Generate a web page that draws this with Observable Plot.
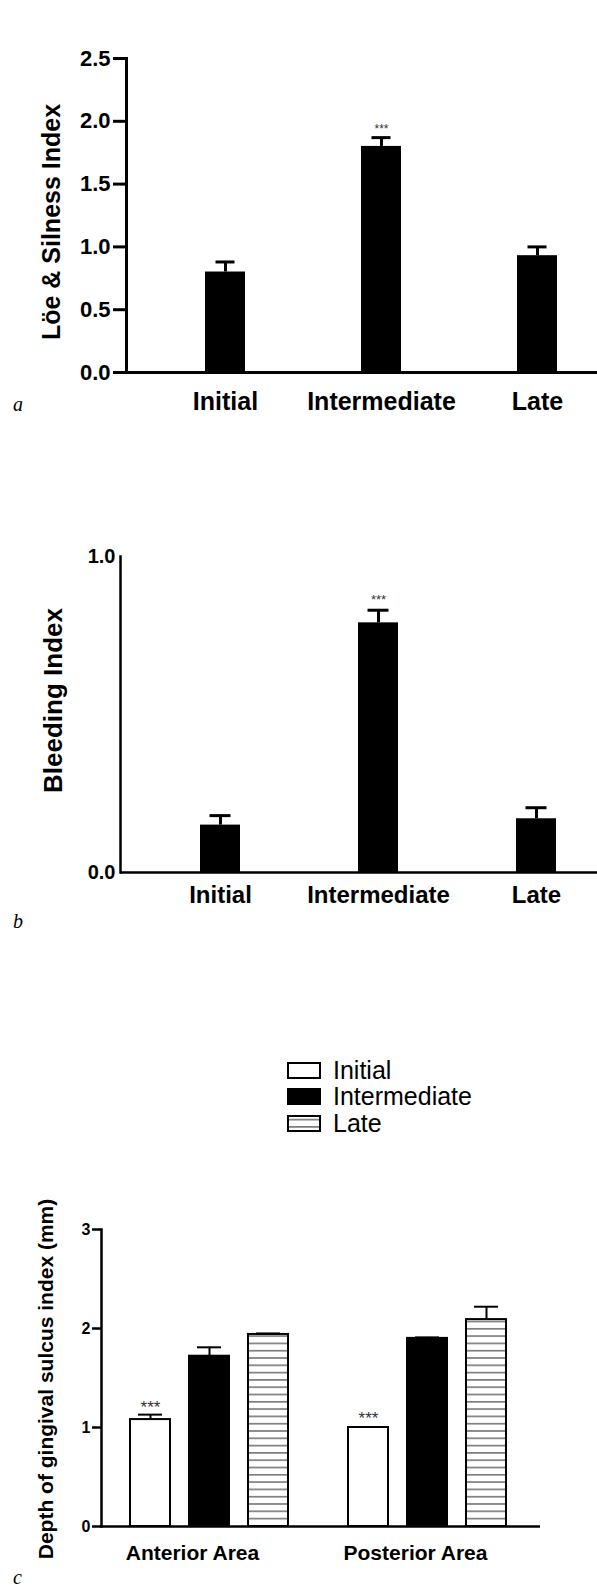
<!DOCTYPE html>
<html><head><meta charset="utf-8">
<script src="https://cdn.jsdelivr.net/npm/d3@7"></script>
<script src="https://cdn.jsdelivr.net/npm/@observablehq/plot@0.6"></script>
<style>
html,body{margin:0;padding:0;background:#fff;}
#page{position:relative;width:597px;height:1590px;overflow:hidden;font-family:"Liberation Sans",Arial,sans-serif;}
.panel{position:absolute;left:0;}
.tag{position:absolute;font-family:"Liberation Serif","Times New Roman",serif;font-style:italic;font-size:20px;line-height:1;}
#legend{position:absolute;left:288px;top:1057px;width:270px;}
.lg-swatches{margin:0!important;min-height:0!important;}
.lg-swatch{display:flex!important;align-items:center!important;height:26.5px!important;padding:0!important;margin:0!important;}
.lg-swatch svg{margin-right:13px!important;overflow:visible!important;}
.lg-swatch svg rect{stroke:#000;stroke-width:2px;}
</style></head>
<body>
<svg width="0" height="0" style="position:absolute">
  <defs>
    <pattern id="stripes" patternUnits="userSpaceOnUse" width="8" height="7.3">
      <rect width="8" height="7.3" fill="#fff"></rect>
      <line x1="0" x2="8" y1="3.6" y2="3.6" stroke="#555" stroke-width="1.3"></line>
    </pattern>
  </defs>
</svg>
<div id="page"></div>
<script>
// ---- data ----
const categories = ["Initial", "Intermediate", "Late"];
const loeMean = [0.80, 1.80, 0.93];
const loeUpper = [0.88, 1.87, 1.00];
const loeTicks = [0, 0.5, 1.0, 1.5, 2.0, 2.5];
const loeStar = 1.94;
const bleedMean = [0.15, 0.79, 0.17];
const bleedUpper = [0.18, 0.83, 0.205];
const bleedTicks = [0, 1];
const bleedStar = 0.862;
const areas = ["Anterior Area", "Posterior Area"];
const anteriorMean = [1.08, 1.72, 1.94];
const anteriorUpper = [1.13, 1.81, 1.95];
const posteriorMean = [1.00, 1.90, 2.09];
const posteriorUpper = [1.00, 1.91, 2.22];
const depthTicks = [0, 1, 2, 3];
const depthStars = [1.205, 1.09];
const starLabel = "***";
const yTitles = ["Löe & Silness Index", "Bleeding Index", "Depth of gingival sulcus index (mm)"];
const panelTags = ["a", "b", "c"];
const fillsC = ["#ffffff", "#000000", "url(#stripes)"];

// ---- tables ----
const rowsA = categories.map((c, i) => ({cat: c, mean: loeMean[i], upper: loeUpper[i]}));
const rowsB = categories.map((c, i) => ({cat: c, mean: bleedMean[i], upper: bleedUpper[i]}));
const rowsC = areas.flatMap((a, j) => categories.map((c, i) => ({
  area: a, cat: c,
  mean: (j ? posteriorMean : anteriorMean)[i],
  upper: (j ? posteriorUpper : anteriorUpper)[i],
  star: i === 0 ? depthStars[j] : null
})));
const starA = [{cat: "Intermediate", y: loeStar}];
const starB = [{cat: "Intermediate", y: bleedStar}];

const FONT = "'Liberation Sans', Arial, Helvetica, sans-serif";
const baseStyle = {fontFamily: FONT, background: "transparent", overflow: "visible", color: "#000"};
const page = document.getElementById("page");
function place(node, top) {
  node.classList.add("panel");
  node.style.top = top + "px";
  page.appendChild(node);
}

// ---- panel a ----
const plotA = Plot.plot({
  width: 597, height: 430, marginTop: 58, marginBottom: 58, marginLeft: 126, marginRight: 0,
  style: baseStyle,
  x: {domain: categories, range: [204, 558], paddingInner: 0.745, paddingOuter: 0},
  y: {domain: [0, 2.5]},
  marks: [
    Plot.barY(rowsA, {x: "cat", y: "mean", fill: "#000"}),
    Plot.ruleX(rowsA, {x: "cat", y1: "mean", y2: "upper", strokeWidth: 3}),
    Plot.tickY(rowsA, {x: "cat", y: "upper", strokeWidth: 3, insetLeft: 10.5, insetRight: 10.5}),
    Plot.text(starA, {x: "cat", y: "y", text: () => starLabel, fontSize: 12, fill: "#333"}),
    Plot.ruleY([0], {strokeWidth: 3}),
    Plot.frame({anchor: "left", strokeWidth: 3}),
    Plot.axisY({ticks: loeTicks, tickFormat: d3.format(".1f"), tickSize: 13, tickPadding: 3, fontSize: 22, fontWeight: "bold", strokeWidth: 3, label: null}),
    Plot.axisX({tickSize: 0, tickPadding: 20, fontSize: 25, fontWeight: "bold", label: null}),
    Plot.text([yTitles[0]], {frameAnchor: "left", textAnchor: "middle", lineAnchor: "middle", rotate: -90, dx: -74.5, dy: 6.5, fontSize: 25, fontWeight: "bold", text: d => d})
  ]
});
place(plotA, 0);

// ---- panel b ----
const plotB = Plot.plot({
  width: 597, height: 500, marginTop: 126, marginBottom: 58, marginLeft: 120, marginRight: 0,
  style: baseStyle,
  x: {domain: categories, range: [199, 556], paddingInner: 0.748, paddingOuter: 0},
  y: {domain: [0, 1]},
  marks: [
    Plot.barY(rowsB, {x: "cat", y: "mean", fill: "#000"}),
    Plot.ruleX(rowsB, {x: "cat", y1: "mean", y2: "upper", strokeWidth: 3}),
    Plot.tickY(rowsB, {x: "cat", y: "upper", strokeWidth: 3, insetLeft: 9.5, insetRight: 9.5}),
    Plot.text(starB, {x: "cat", y: "y", text: () => starLabel, fontSize: 13, fill: "#333"}),
    Plot.ruleY([0], {strokeWidth: 2.5}),
    Plot.frame({anchor: "left", strokeWidth: 2.5}),
    Plot.axisY({ticks: bleedTicks, tickFormat: d3.format(".1f"), tickSize: 0, tickPadding: 5, fontSize: 20, fontWeight: "bold", label: null}),
    Plot.axisX({tickSize: 0, tickPadding: 13, fontSize: 24, fontWeight: "bold", label: null}),
    Plot.text([yTitles[1]], {frameAnchor: "left", textAnchor: "middle", lineAnchor: "middle", rotate: -90, dx: -67, dy: -14, fontSize: 26, fontWeight: "bold", text: d => d})
  ]
});
place(plotB, 430);

// ---- panel c : bars ----
const plotCbars = Plot.plot({
  width: 597, height: 440, marginTop: 79, marginBottom: 64, marginLeft: 0, marginRight: 0,
  style: baseStyle,
  fx: {domain: areas, range: [130, 508], paddingInner: 0.27, paddingOuter: 0, axis: null, label: null},
  x: {domain: categories, paddingInner: 0.319, paddingOuter: 0, axis: null},
  y: {domain: [0, 3], axis: null},
  color: {domain: categories, range: fillsC},
  marks: [
    Plot.barY(rowsC, {fx: "area", x: "cat", y: "mean", fill: "cat", stroke: "#000", strokeWidth: 2}),
    Plot.ruleX(rowsC.filter(d => d.upper > d.mean), {fx: "area", x: "cat", y1: "mean", y2: "upper", strokeWidth: 2}),
    Plot.tickY(rowsC.filter(d => d.upper > d.mean), {fx: "area", x: "cat", y: "upper", strokeWidth: 2, insetLeft: 8, insetRight: 8}),
    Plot.text(rowsC.filter(d => d.star != null), {fx: "area", x: "cat", y: "star", text: () => starLabel, fontSize: 17, fill: "#333"})
  ]
});
place(plotCbars, 1150);

// ---- panel c : axes ----
const plotCaxes = Plot.plot({
  width: 597, height: 440, marginTop: 79, marginBottom: 64, marginLeft: 101, marginRight: 57,
  style: baseStyle,
  x: {type: "point", domain: areas, range: [192, 415], padding: 0},
  y: {domain: [0, 3]},
  marks: [
    Plot.ruleY([0], {strokeWidth: 2.5}),
    Plot.frame({anchor: "left", strokeWidth: 2.5}),
    Plot.axisY({ticks: depthTicks, tickFormat: d3.format("d"), tickSize: 9, tickPadding: 2, fontSize: 16, fontWeight: "bold", strokeWidth: 2.5, label: null}),
    Plot.axisX({tickSize: 0, tickPadding: 19, fontSize: 21, fontWeight: "bold", label: null}),
    Plot.text([yTitles[2]], {frameAnchor: "left", textAnchor: "middle", lineAnchor: "middle", rotate: -90, dx: -55, dy: 1, fontSize: 21, fontWeight: "bold", text: d => d})
  ]
});
place(plotCaxes, 1150);

// ---- legend ----
const legend = Plot.legend({
  color: {type: "ordinal", domain: categories, range: fillsC},
  className: "lg", swatchWidth: 32, swatchHeight: 15, columns: 1,
  style: {fontSize: "25px", fontFamily: FONT, color: "#000"}
});
const legWrap = document.createElement("div");
legWrap.id = "legend";
legWrap.appendChild(legend);
page.appendChild(legWrap);

// ---- panel tags ----
const tagTops = [394, 911, 1567];
panelTags.forEach((t, i) => {
  const s = document.createElement("div");
  s.className = "tag";
  s.textContent = t;
  s.style.left = "13px";
  s.style.top = tagTops[i] + "px";
  page.appendChild(s);
});
</script>
</body></html>
